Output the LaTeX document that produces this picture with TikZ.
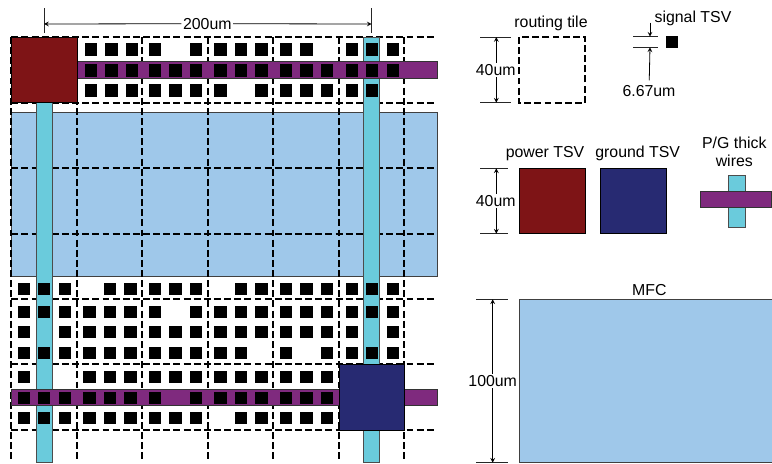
\documentclass[tikz,border=0pt]{standalone}
\usepackage{fontspec}
\setmainfont{Liberation Sans}
\usepackage{xcolor}
\usetikzlibrary{arrows,positioning,calc}
\definecolor{mfcblue}{HTML}{9FC8EA}
\definecolor{wirecyan}{HTML}{6ACBDC}
\definecolor{wirepurple}{HTML}{7F2A7E}
\definecolor{powerred}{HTML}{7E1416}
\definecolor{groundblue}{HTML}{272A72}

\begin{document}
\begin{tikzpicture}[
    x=0.75pt, y=-0.75pt,
    font=\fontsize{11.9}{13.6}\selectfont,
    tile/.style={dashed, dash pattern=on 5.2pt off 2.4pt, line width=1.4pt, black},
    mfc/.style={rectangle, draw=black!75, line width=0.6pt, fill=mfcblue},
    vwire/.style={rectangle, draw=black!70, line width=0.7pt, fill=wirecyan},
    hwire/.style={rectangle, draw=black!80, line width=0.7pt, fill=wirepurple},
    powertsv/.style={rectangle, draw=black, line width=0.6pt, fill=powerred},
    groundtsv/.style={rectangle, draw=black, line width=0.6pt, fill=groundblue},
    sigtsv/.style={rectangle, fill=black, inner sep=0pt, minimum size=9.3pt},
    tick/.style={draw=black!85, line width=0.6pt},
    dim/.style={<->,>=stealth, line width=0.6pt},
    arrow/.style={->,>=stealth, line width=0.6pt},
    sizetext/.style={inner sep=1pt, fill=white}
]
\useasboundingbox (0,0) rectangle (772,464);

% Microfluidic channel under the grid
\draw[mfc] (11.3,112.3) rectangle (437,276);

% Routing tile grid
\foreach \tx in {11.3,77,142,208,273,339,404} {
    \draw[tile] (\tx,37) -- (\tx,460);
}
\foreach \ty in {37,102.7,168.3,233.7,299,364.3,430} {
    \draw[tile] (11.3,\ty) -- (434,\ty);
}

% P/G thick wires
\draw[vwire] (36,102.7) rectangle (52.3,462.7);
\draw[vwire] (363.7,37) rectangle (379.7,462.7);
\draw[hwire] (77,61.7) rectangle (437,78);
\draw[hwire] (11.3,389.3) rectangle (437,405.7);

% Signal TSVs
\foreach \rw/\ry/\sx/\cols in {
    a1/49.3/1.7/{3,4,5},
    a/49.3/0/{6,8,9,10,11,12,13,15,16,17},
    b1/70.3/1.7/{3,4,5},
    b/70.3/0/{6,7,8,9,10,11,12,13,14,15,16,17},
    c1/90.3/1.7/{3,4,5},
    c/90.3/0/{6,7,8,9,11,12,13,14,15,16},
    d/288.7/0/{0,1,2,4,5,6,7,8,10,11,12,13,14,15,16,17},
    e/311.7/0/{0,1,2,3,4,5,6,8,9,10,11,12,13,14,15,16,17},
    f/332/0/{0,2,3,4,5,6,7,8,9,10,11,12,13,14,15,17},
    g/352.7/0/{0,1,2,3,4,5,6,7,8,9,10,12,14,15,16,17},
    h/376.7/0/{0,3,4,5,6,7,8,9,10,11,12,13,14},
    i/397.7/0/{0,1,2,3,4,5,6,8,9,10,11,12,13,14},
    j/418/0/{0,1,2,3,4,5,6,7,8,10,11,12,13,14}} {
    \foreach \cl in \cols {
        \pgfmathsetmacro{\cx}{23.7+\sx+65.6*int(\cl/3)+20.5*mod(\cl,3)}
        \node[sigtsv] (tsv\rw-\cl) at (\cx,\ry) {};
    }
}

% Power and ground TSVs
\draw[powertsv] (11.3,37) rectangle (77,102.7);
\draw[groundtsv] (339,364.3) rectangle (404.7,430);

% Overall width
\coordinate (widthL) at (44,24);
\coordinate (widthR) at (371.7,24);
\node[sizetext] (width) at (207.3,23.7) {200um};
\draw[tick] (44,8) -- (44,33);
\draw[tick] (371.7,8) -- (371.7,33);
\draw[arrow] (width) -- (widthL);
\draw[arrow] (width) -- (widthR);

% Routing tile legend
\draw[tile] (519,37) rectangle (585,102.7);
\node (tilename) at (551,23.2) {routing tile};
\coordinate (tiletop) at (496.3,37);
\coordinate (tilebot) at (496.3,102.7);
\draw[tick] (480,37) -- (511,37);
\draw[tick] (480,102.7) -- (511,102.7);
\draw[dim] (tiletop) -- (tilebot);
\node[sizetext] (tilesize) at (495.7,70) {40um};

% Signal TSV legend
\node[sigtsv] (sigkey) at (672.2,42.2) {};
\node (signame) at (693,18.2) {signal TSV};
\node (sigsize) at (649,90.7) {6.67um};
\coordinate (sigup) at (650,22.7);
\coordinate (sigtop) at (650,36.7);
\coordinate (sigbot) at (650,47.3);
\draw[tick] (633,36.7) -- (658,36.7);
\draw[tick] (633,47.3) -- (658,47.3);
\draw[arrow] (sigup) -- (sigtop);
\draw[arrow] (sigsize) -- (sigbot);

% Power, ground legend
\draw[powertsv] (519,168.3) rectangle (585,233.7);
\draw[groundtsv] (600.7,168.3) rectangle (666.3,233.7);
\node (powername) at (545,153.2) {power TSV};
\node (groundname) at (637.7,153.2) {ground TSV};
\coordinate (tsvtop) at (496.3,168.3);
\coordinate (tsvbot) at (496.3,233.7);
\draw[tick] (480,168.3) -- (507.7,168.3);
\draw[tick] (480,233.7) -- (507.7,233.7);
\draw[dim] (tsvtop) -- (tsvbot);
\node[sizetext] (tsvsize) at (495.7,201) {40um};

% P/G wire legend
\node[align=center, inner sep=0pt] (wirename) at (734.3,152.2) {P/G thick\\wires};
\draw[vwire] (728.7,175) rectangle (745,227.7);
\draw[hwire] (700.7,191.3) rectangle (771,207.7);

% MFC legend
\draw[mfc] (519,299.3) rectangle (773,462.7);
\node (mfcname) at (649.3,289.8) {MFC};
\coordinate (mfctop) at (492.7,299.3);
\coordinate (mfcbot) at (492.7,462.7);
\draw[tick] (476,299.3) -- (507.7,299.3);
\draw[tick] (476,462.7) -- (507.7,462.7);
\draw[dim] (mfctop) -- (mfcbot);
\node[sizetext] (mfcsize) at (492.7,381) {100um};

\end{tikzpicture}
\end{document}
